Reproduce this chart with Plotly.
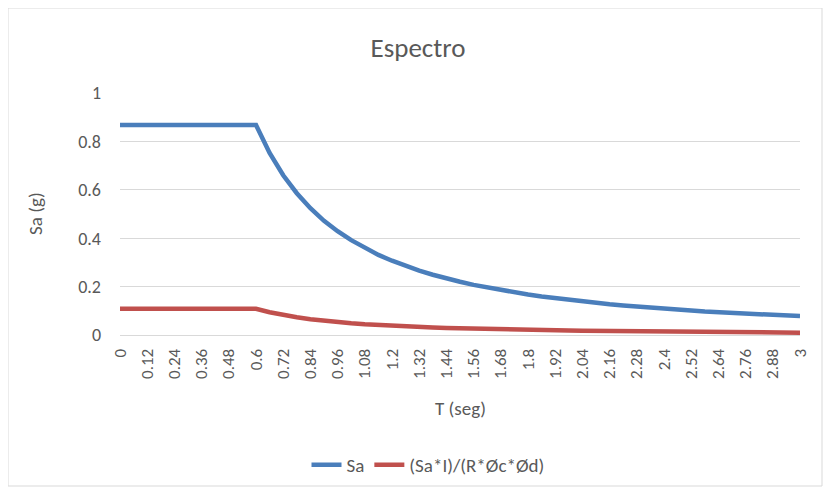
import plotly.graph_objects as go

# Period T (s), sampled every 0.06 s
T = [round(0.06 * i, 2) for i in range(51)]

# Sa (g)
sa = [0.868, 0.868, 0.868, 0.868, 0.868, 0.868, 0.868, 0.868, 0.868, 0.868, 0.868,
      0.752, 0.660, 0.586, 0.524, 0.472, 0.429, 0.392, 0.359, 0.331, 0.307,
      0.285, 0.266, 0.249, 0.233, 0.220, 0.207, 0.196, 0.185, 0.176, 0.167,
      0.159, 0.152, 0.145, 0.138, 0.133, 0.127, 0.122, 0.117, 0.113, 0.1085,
      0.105, 0.101, 0.097, 0.094, 0.091, 0.088, 0.085, 0.083, 0.080, 0.078]

# (Sa*I)/(R*Øc*Ød)
sa_red = [0.1085, 0.1085, 0.1085, 0.1085, 0.1085, 0.1085, 0.1085, 0.1085, 0.1085, 0.1085, 0.1085,
          0.0940, 0.0825, 0.0732, 0.0655, 0.0590, 0.0536, 0.0490, 0.0449, 0.0414, 0.0384,
          0.0357, 0.0333, 0.0311, 0.0292, 0.0275, 0.0259, 0.0245, 0.0232, 0.0220, 0.0209,
          0.0199, 0.0190, 0.0181, 0.0173, 0.0166, 0.0159, 0.0152, 0.0146, 0.0141, 0.0136,
          0.0131, 0.0126, 0.0122, 0.0118, 0.0114, 0.0110, 0.0107, 0.0103, 0.0100, 0.0097]

x_tick_labels = ["0", "0.12", "0.24", "0.36", "0.48", "0.6", "0.72", "0.84", "0.96",
                 "1.08", "1.2", "1.32", "1.44", "1.56", "1.68", "1.8", "1.92", "2.04",
                 "2.16", "2.28", "2.4", "2.52", "2.64", "2.76", "2.88", "3"]
x_tick_vals = [float(s) for s in x_tick_labels]
y_tick_vals = [0, 0.2, 0.4, 0.6, 0.8, 1]
y_tick_labels = ["0", "0.2", "0.4", "0.6", "0.8", "1"]

FONT = "Carlito, Calibri, Lato, sans-serif"
GRAY = "#595959"
GRID = "#d9d9d9"

# the page body has an 8px margin; work in reference pixels minus that offset
OFF = 8
W, H = 831 - 2 * OFF, 495 - 2 * OFF
L, R, TOP, BOT = 120 - OFF, 800 - OFF, 93 - OFF, 335 - OFF

fig = go.Figure()
fig.add_trace(go.Scatter(x=T, y=sa, mode="lines", name="Sa",
                         line=dict(color="#4A7EBB", width=4.5)))
fig.add_trace(go.Scatter(x=T, y=sa_red, mode="lines", name="(Sa*I)/(R*Øc*Ød)",
                         line=dict(color="#C0504D", width=4.5)))

def px_to_paper_x(px):
    return (px - OFF - L) / (R - L)

def px_to_paper_y(py):
    return (BOT - (py - OFF)) / (BOT - TOP)

fig.update_layout(
    width=W, height=H,
    margin=dict(l=L, r=W - R, t=TOP, b=H - BOT, autoexpand=False),
    paper_bgcolor="white", plot_bgcolor="white",
    font=dict(family=FONT, color=GRAY, size=18),
    title=dict(text="Espectro", x=(418 - OFF) / W, xanchor="center", xref="container",
               y=1 - (48 - OFF) / H, yanchor="middle", yref="container",
               font=dict(size=27, color=GRAY)),
    showlegend=True,
    legend=dict(orientation="h", x=(428 - OFF) / W, xanchor="center", xref="container",
                y=1 - (465 - OFF) / H, yanchor="middle", yref="container",
                font=dict(size=19, color=GRAY), tracegroupgap=0),
    xaxis=dict(range=[0, 3], tickvals=x_tick_vals, ticktext=x_tick_labels,
               tickangle=-90, showgrid=False, showline=True, linecolor=GRID,
               linewidth=1, zeroline=False, ticks="", ticklabelstandoff=6,
               tickfont=dict(size=17, color=GRAY)),
    yaxis=dict(range=[0, 1], tickvals=y_tick_vals, ticktext=y_tick_labels,
               showgrid=True, gridcolor=GRID, gridwidth=1, zeroline=False,
               showline=False, ticks="", ticklabelstandoff=18,
               tickfont=dict(size=18, color=GRAY)),
    annotations=[
        dict(text="T (seg)", xref="paper", yref="paper", x=0.5, y=px_to_paper_y(408),
             xanchor="center", yanchor="middle", showarrow=False,
             font=dict(size=19, color=GRAY)),
        dict(text="Sa (g)", xref="paper", yref="paper", x=px_to_paper_x(35), y=0.5,
             xanchor="center", yanchor="middle", textangle=-90, showarrow=False,
             font=dict(size=19, color=GRAY)),
    ],
    shapes=[
        dict(type="rect", xref="paper", yref="paper",
             x0=px_to_paper_x(8), x1=px_to_paper_x(822),
             y0=px_to_paper_y(486), y1=px_to_paper_y(8),
             line=dict(color=GRID, width=1), fillcolor="rgba(0,0,0,0)", layer="below"),
    ],
)

fig.write_html("out.html")
